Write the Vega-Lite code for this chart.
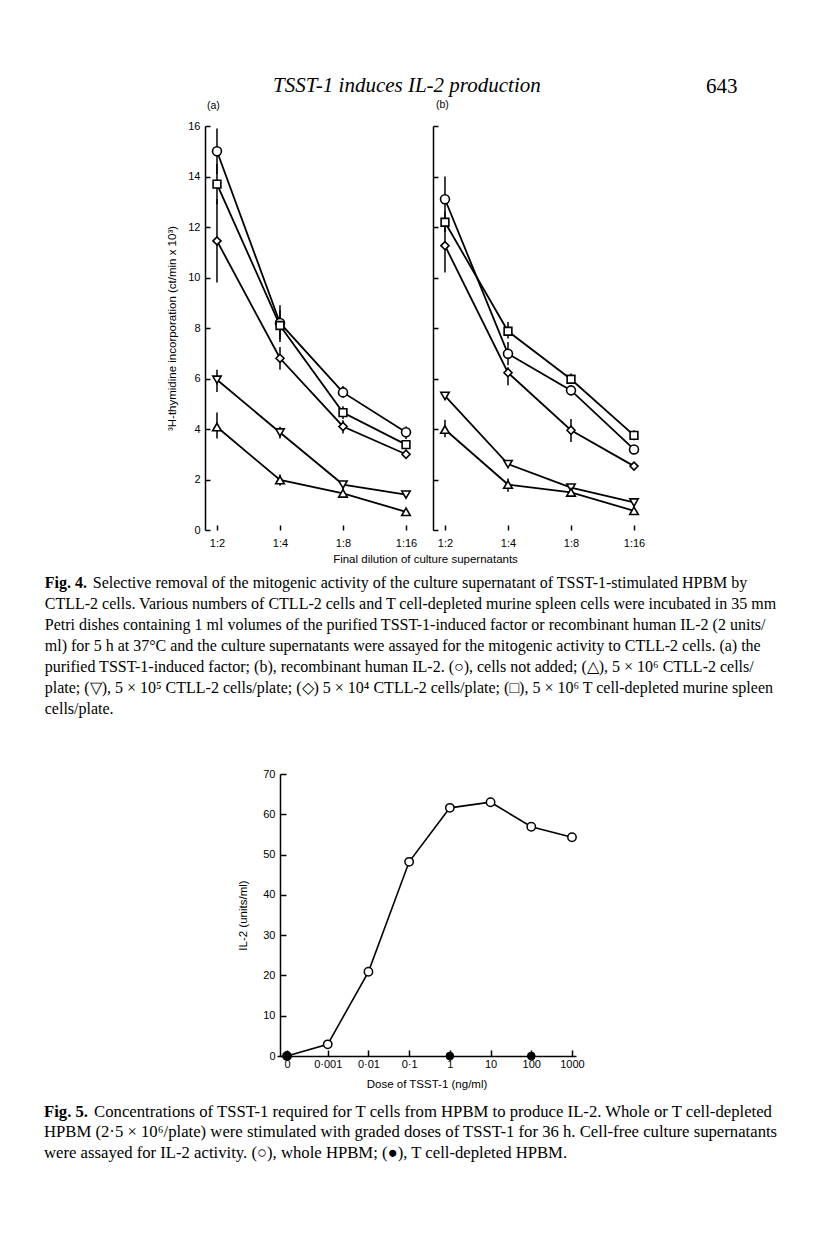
{
  "$schema": "https://vega.github.io/schema/vega-lite/v6.json",
  "background": "white",
  "padding": {"left": 44, "top": 74, "right": 10, "bottom": 10},
  "config": {
    "view": {"stroke": null},
    "axis": {"grid": false, "domainColor": "black", "domainWidth": 1.5, "tickColor": "black", "tickWidth": 1.5, "labelColor": "black", "titleColor": "black", "labelFont": "Liberation Sans", "titleFont": "Liberation Sans", "labelFontSize": 11, "titleFontSize": 11.5, "titleFontWeight": "normal"},
    "title": {"color": "black", "subtitleColor": "black"}
  },
  "title": {"text": "643", "anchor": "end", "frame": "bounds", "font": "Liberation Serif", "fontSize": 21, "fontWeight": "normal", "baseline": "top", "offset": -22, "dx": -40},
  "datasets": {
    "fig4": [
      {"panel": "a", "series": "cells not added", "fold": 2, "cpm": 15.0, "lo": 14.1, "hi": 15.9},
      {"panel": "a", "series": "cells not added", "fold": 4, "cpm": 8.2, "lo": 7.55, "hi": 8.7},
      {"panel": "a", "series": "cells not added", "fold": 8, "cpm": 5.45, "lo": 5.25, "hi": 5.7},
      {"panel": "a", "series": "cells not added", "fold": 16, "cpm": 3.87, "lo": 3.6, "hi": 4.1},
      {"panel": "a", "series": "5×10⁶ T cell-depleted spleen", "fold": 2, "cpm": 13.7, "lo": 12.9, "hi": 14.5},
      {"panel": "a", "series": "5×10⁶ T cell-depleted spleen", "fold": 4, "cpm": 8.1, "lo": 7.45, "hi": 8.9},
      {"panel": "a", "series": "5×10⁶ T cell-depleted spleen", "fold": 8, "cpm": 4.65, "lo": 4.4, "hi": 4.9},
      {"panel": "a", "series": "5×10⁶ T cell-depleted spleen", "fold": 16, "cpm": 3.38, "lo": 3.2, "hi": 3.55},
      {"panel": "a", "series": "5×10⁴ CTLL-2", "fold": 2, "cpm": 11.45, "lo": 9.8, "hi": 13.1},
      {"panel": "a", "series": "5×10⁴ CTLL-2", "fold": 4, "cpm": 6.8, "lo": 6.35, "hi": 7.25},
      {"panel": "a", "series": "5×10⁴ CTLL-2", "fold": 8, "cpm": 4.1, "lo": 3.82, "hi": 4.35},
      {"panel": "a", "series": "5×10⁴ CTLL-2", "fold": 16, "cpm": 3.0, "lo": 2.85, "hi": 3.15},
      {"panel": "a", "series": "5×10⁵ CTLL-2", "fold": 2, "cpm": 5.95, "lo": 5.47, "hi": 6.35},
      {"panel": "a", "series": "5×10⁵ CTLL-2", "fold": 4, "cpm": 3.86, "lo": 3.62, "hi": 4.09},
      {"panel": "a", "series": "5×10⁵ CTLL-2", "fold": 8, "cpm": 1.8, "lo": 1.6, "hi": 1.95},
      {"panel": "a", "series": "5×10⁵ CTLL-2", "fold": 16, "cpm": 1.4, "lo": 1.3, "hi": 1.5},
      {"panel": "a", "series": "5×10⁶ CTLL-2", "fold": 2, "cpm": 4.08, "lo": 3.62, "hi": 4.65},
      {"panel": "a", "series": "5×10⁶ CTLL-2", "fold": 4, "cpm": 1.98, "lo": 1.75, "hi": 2.2},
      {"panel": "a", "series": "5×10⁶ CTLL-2", "fold": 8, "cpm": 1.45, "lo": 1.35, "hi": 1.55},
      {"panel": "a", "series": "5×10⁶ CTLL-2", "fold": 16, "cpm": 0.72, "lo": 0.65, "hi": 0.8},
      {"panel": "b", "series": "cells not added", "fold": 2, "cpm": 13.1, "lo": 12.2, "hi": 14.0},
      {"panel": "b", "series": "cells not added", "fold": 4, "cpm": 6.98, "lo": 6.52, "hi": 7.45},
      {"panel": "b", "series": "cells not added", "fold": 8, "cpm": 5.53, "lo": 5.35, "hi": 5.7},
      {"panel": "b", "series": "cells not added", "fold": 16, "cpm": 3.19, "lo": 3.05, "hi": 3.35},
      {"panel": "b", "series": "5×10⁶ T cell-depleted spleen", "fold": 2, "cpm": 12.19, "lo": 11.8, "hi": 12.6},
      {"panel": "b", "series": "5×10⁶ T cell-depleted spleen", "fold": 4, "cpm": 7.87, "lo": 7.58, "hi": 8.24},
      {"panel": "b", "series": "5×10⁶ T cell-depleted spleen", "fold": 8, "cpm": 5.97, "lo": 5.8, "hi": 6.2},
      {"panel": "b", "series": "5×10⁶ T cell-depleted spleen", "fold": 16, "cpm": 3.75, "lo": 3.55, "hi": 3.95},
      {"panel": "b", "series": "5×10⁴ CTLL-2", "fold": 2, "cpm": 11.26, "lo": 10.2, "hi": 12.3},
      {"panel": "b", "series": "5×10⁴ CTLL-2", "fold": 4, "cpm": 6.23, "lo": 5.73, "hi": 6.45},
      {"panel": "b", "series": "5×10⁴ CTLL-2", "fold": 8, "cpm": 3.95, "lo": 3.49, "hi": 4.4},
      {"panel": "b", "series": "5×10⁴ CTLL-2", "fold": 16, "cpm": 2.53, "lo": 2.4, "hi": 2.65},
      {"panel": "b", "series": "5×10⁵ CTLL-2", "fold": 2, "cpm": 5.31, "lo": 5.15, "hi": 5.45},
      {"panel": "b", "series": "5×10⁵ CTLL-2", "fold": 4, "cpm": 2.61, "lo": 2.5, "hi": 2.75},
      {"panel": "b", "series": "5×10⁵ CTLL-2", "fold": 8, "cpm": 1.68, "lo": 1.55, "hi": 1.8},
      {"panel": "b", "series": "5×10⁵ CTLL-2", "fold": 16, "cpm": 1.09, "lo": 0.95, "hi": 1.25},
      {"panel": "b", "series": "5×10⁶ CTLL-2", "fold": 2, "cpm": 3.98, "lo": 3.67, "hi": 4.37},
      {"panel": "b", "series": "5×10⁶ CTLL-2", "fold": 4, "cpm": 1.8, "lo": 1.51, "hi": 2.04},
      {"panel": "b", "series": "5×10⁶ CTLL-2", "fold": 8, "cpm": 1.49, "lo": 1.35, "hi": 1.62},
      {"panel": "b", "series": "5×10⁶ CTLL-2", "fold": 16, "cpm": 0.76, "lo": 0.7, "hi": 0.85}
    ],
    "fig5": [
      {"cells": "whole HPBM", "dose": "0", "il2": 0},
      {"cells": "whole HPBM", "dose": "0·001", "il2": 2.9},
      {"cells": "whole HPBM", "dose": "0·01", "il2": 20.9},
      {"cells": "whole HPBM", "dose": "0·1", "il2": 48.2},
      {"cells": "whole HPBM", "dose": "1", "il2": 61.6},
      {"cells": "whole HPBM", "dose": "10", "il2": 63.0},
      {"cells": "whole HPBM", "dose": "100", "il2": 56.9},
      {"cells": "whole HPBM", "dose": "1000", "il2": 54.3},
      {"cells": "T cell-depleted HPBM", "dose": "0", "il2": 0},
      {"cells": "T cell-depleted HPBM", "dose": "1", "il2": 0},
      {"cells": "T cell-depleted HPBM", "dose": "100", "il2": 0}
    ]
  },
  "spacing": 51,
  "vconcat": [
    {
      "title": {"text": "TSST-1 induces IL-2 production", "anchor": "middle", "frame": "bounds", "font": "Liberation Serif", "fontStyle": "italic", "fontSize": 21, "fontWeight": "normal", "baseline": "top", "offset": 4, "dx": -4},
      "vconcat": [
        {
          "title": {
            "text": "Fig. 4.",
            "orient": "bottom", "anchor": "start", "frame": "bounds", "align": "left", "baseline": "top",
            "font": "Liberation Serif", "fontSize": 16, "fontWeight": "bold", "offset": 10, "dx": -122,
            "subtitle": [
              "\u200b\u00a0\u00a0\u00a0\u00a0\u00a0\u00a0\u00a0\u00a0\u00a0\u00a0\u00a0\u00a0Selective removal of the mitogenic activity of the culture supernatant of TSST-1-stimulated HPBM by",
              "CTLL-2 cells. Various numbers of CTLL-2 cells and T cell-depleted murine spleen cells were incubated in 35 mm",
              "Petri dishes containing 1 ml volumes of the purified TSST-1-induced factor or recombinant human IL-2 (2 units/",
              "ml) for 5 h at 37°C and the culture supernatants were assayed for the mitogenic activity to CTLL-2 cells. (a) the",
              "purified TSST-1-induced factor; (b), recombinant human IL-2. (○), cells not added; (△), 5 × 10⁶ CTLL-2 cells/",
              "plate; (▽), 5 × 10⁵ CTLL-2 cells/plate; (◇) 5 × 10⁴ CTLL-2 cells/plate; (□), 5 × 10⁶ T cell-depleted murine spleen",
              "cells/plate."
            ],
            "subtitleFont": "Liberation Serif", "subtitleFontSize": 16, "subtitleFontWeight": "normal", "subtitleLineHeight": 21, "subtitlePadding": -16
          },
          "bounds": "flush",
          "spacing": 21,
          "hconcat": [
            {
              "width": 207, "height": 404,
              "title": {"text": "(a)", "anchor": "start", "frame": "group", "font": "Liberation Sans", "fontSize": 10.5, "fontWeight": "normal", "offset": 9, "dx": 2},
              "data": {"name": "fig4"},
              "transform": [{"filter": "datum.panel === 'a'"}],
              "encoding": {
                "x": {"field": "fold", "type": "quantitative", "scale": {"type": "log", "base": 2, "domain": [1.753, 17.09], "nice": false},
                      "axis": {"values": [2, 4, 8, 16], "labelExpr": "'1:' + datum.value", "domain": false, "tickSize": -5, "labelPadding": 12, "title": "Final dilution of culture supernatants", "titleX": 220, "titlePadding": 5}},
                "y": {"field": "cpm", "type": "quantitative", "scale": {"domain": [0, 16], "nice": false},
                      "axis": {"values": [0, 2, 4, 6, 8, 10, 12, 14, 16], "tickSize": -5, "labelPadding": 10, "title": "³H-thymidine incorporation (ct/min x 10³)", "titlePadding": 10}}
              },
              "layer": [
                {"data": {"values": [{"axis": "x"}]}, "mark": {"type": "rule", "stroke": "black", "strokeWidth": 1.5},
                 "encoding": {"x": {"datum": 1.93}, "x2": {"datum": 16.35}, "y": {"datum": 0}}},
                {"transform": [{"filter": "isValid(datum.lo)"}], "mark": {"type": "rule", "stroke": "black", "strokeWidth": 1.5},
                 "encoding": {"y": {"field": "lo", "type": "quantitative"}, "y2": {"field": "hi"}}},
                {"mark": {"type": "line", "stroke": "black", "strokeWidth": 1.8}, "encoding": {"detail": {"field": "series", "type": "nominal"}}},
                {"mark": {"type": "point", "filled": true, "fill": "white", "stroke": "black", "strokeWidth": 1.6, "opacity": 1},
                 "encoding": {
                   "shape": {"field": "series", "type": "nominal", "scale": {"domain": ["cells not added", "5×10⁶ CTLL-2", "5×10⁵ CTLL-2", "5×10⁴ CTLL-2", "5×10⁶ T cell-depleted spleen"], "range": ["circle", "triangle-up", "triangle-down", "diamond", "square"]}, "legend": null},
                   "size": {"field": "series", "type": "nominal", "scale": {"domain": ["cells not added", "5×10⁶ CTLL-2", "5×10⁵ CTLL-2", "5×10⁴ CTLL-2", "5×10⁶ T cell-depleted spleen"], "range": [80, 60, 60, 115, 75]}, "legend": null}
                 }}
              ]
            },
            {
              "width": 207, "height": 404,
              "title": {"text": "(b)", "anchor": "start", "frame": "group", "font": "Liberation Sans", "fontSize": 10.5, "fontWeight": "normal", "offset": 15, "dx": 3},
              "data": {"name": "fig4"},
              "transform": [{"filter": "datum.panel === 'b'"}],
              "encoding": {
                "x": {"field": "fold", "type": "quantitative", "scale": {"type": "log", "base": 2, "domain": [1.753, 17.09], "nice": false},
                      "axis": {"values": [2, 4, 8, 16], "labelExpr": "'1:' + datum.value", "domain": false, "tickSize": -5, "labelPadding": 12, "title": null}},
                "y": {"field": "cpm", "type": "quantitative", "scale": {"domain": [0, 16], "nice": false},
                      "axis": {"values": [0, 2, 4, 6, 8, 10, 12, 14, 16], "tickSize": -5, "labels": false, "title": null}}
              },
              "layer": [
                {"data": {"values": [{"axis": "x"}]}, "mark": {"type": "rule", "stroke": "black", "strokeWidth": 1.5},
                 "encoding": {"x": {"datum": 1.93}, "x2": {"datum": 16.35}, "y": {"datum": 0}}},
                {"transform": [{"filter": "isValid(datum.lo)"}], "mark": {"type": "rule", "stroke": "black", "strokeWidth": 1.5},
                 "encoding": {"y": {"field": "lo", "type": "quantitative"}, "y2": {"field": "hi"}}},
                {"mark": {"type": "line", "stroke": "black", "strokeWidth": 1.8}, "encoding": {"detail": {"field": "series", "type": "nominal"}}},
                {"mark": {"type": "point", "filled": true, "fill": "white", "stroke": "black", "strokeWidth": 1.6, "opacity": 1},
                 "encoding": {
                   "shape": {"field": "series", "type": "nominal", "scale": {"domain": ["cells not added", "5×10⁶ CTLL-2", "5×10⁵ CTLL-2", "5×10⁴ CTLL-2", "5×10⁶ T cell-depleted spleen"], "range": ["circle", "triangle-up", "triangle-down", "diamond", "square"]}, "legend": null},
                   "size": {"field": "series", "type": "nominal", "scale": {"domain": ["cells not added", "5×10⁶ CTLL-2", "5×10⁵ CTLL-2", "5×10⁴ CTLL-2", "5×10⁶ T cell-depleted spleen"], "range": [80, 60, 60, 115, 75]}, "legend": null}
                 }}
              ]
            }
          ]
        }
      ]
    },
    {
      "width": 371, "height": 282,
      "title": {
        "text": "Fig. 5.",
        "orient": "bottom", "anchor": "start", "frame": "group", "align": "left", "baseline": "top",
        "font": "Liberation Serif", "fontSize": 16.7, "fontWeight": "bold", "offset": 14, "dx": -161,
        "subtitle": [
          "\u200b\u00a0\u00a0\u00a0\u00a0\u00a0\u00a0\u00a0\u00a0\u00a0\u00a0\u00a0\u00a0Concentrations of TSST-1 required for T cells from HPBM to produce IL-2. Whole or T cell-depleted",
          "HPBM (2·5 × 10⁶/plate) were stimulated with graded doses of TSST-1 for 36 h. Cell-free culture supernatants",
          "were assayed for IL-2 activity. (○), whole HPBM; (●), T cell-depleted HPBM."
        ],
        "subtitleFont": "Liberation Serif", "subtitleFontSize": 16.7, "subtitleFontWeight": "normal", "subtitleLineHeight": 20.5, "subtitlePadding": -16.7
      },
      "data": {"name": "fig5"},
      "encoding": {
        "x": {"field": "dose", "type": "ordinal", "scale": {"type": "point", "domain": ["0", "0·001", "0·01", "0·1", "1", "10", "100", "1000"], "range": [72, 371], "padding": 0.1725, "align": 0.714},
              "axis": {"labelAngle": 0, "tickSize": -6, "labelPadding": 8, "title": "Dose of TSST-1 (ng/ml)", "titlePadding": 9}},
        "y": {"field": "il2", "type": "quantitative", "scale": {"domain": [0, 70], "nice": false},
              "axis": {"values": [0, 10, 20, 30, 40, 50, 60, 70], "offset": -75, "tickSize": -6, "labelPadding": 11, "title": "IL-2 (units/ml)", "titlePadding": 14}}
      },
      "layer": [
        {"transform": [{"filter": "datum.cells === 'whole HPBM'"}], "mark": {"type": "line", "stroke": "black", "strokeWidth": 1.6}},
        {"transform": [{"filter": "datum.cells === 'whole HPBM'"}], "mark": {"type": "point", "shape": "circle", "filled": true, "fill": "white", "stroke": "black", "strokeWidth": 1.5, "size": 70, "opacity": 1}},
        {"transform": [{"filter": "datum.cells === 'T cell-depleted HPBM'"}], "mark": {"type": "point", "shape": "circle", "filled": true, "fill": "black", "stroke": "black", "strokeWidth": 1, "size": 60, "opacity": 1}}
      ]
    }
  ]
}
